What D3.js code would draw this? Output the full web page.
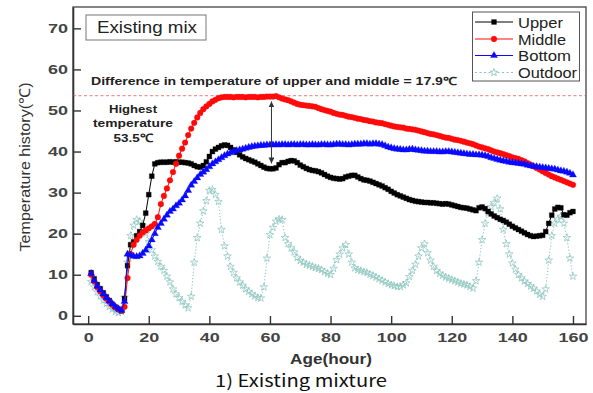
<!DOCTYPE html>
<html>
<head>
<meta charset="utf-8">
<script src="https://cdn.jsdelivr.net/npm/d3@7"></script>
<style>
  body { margin: 0; background: #fff; }
  svg { display: block; }
</style>
</head>
<body>
<script>
// hourly readings, age 1..160 h
var hours = d3.range(1, 161);

var upper = [
  10.5, 9, 7.6, 6.6, 5.6, 4.6, 3.7, 2.8, 2.1, 1.6,
  1.2, 4.2, 12.2, 17.3, 18, 19.5, 20.5, 22, 25, 29.5,
  34, 37, 37.3, 37.4, 37.4, 37.4, 37.5, 37.4, 37.5, 37.4,
  37.4, 37.3, 37.2, 37, 36.6, 36.3, 36.2, 36.6, 37.5, 38.8,
  40, 40.6, 41, 41.4, 41.6, 41.5, 41, 40.4, 39.8, 39.2,
  38.7, 38.3, 38, 37.7, 37.4, 37, 36.6, 36.2, 35.9, 35.8,
  35.8, 36, 36.8, 37.3, 37.3, 37.6, 37.8, 37.7, 37.3, 36.7,
  36.3, 35.9, 35.6, 35.4, 35.3, 35.1, 34.8, 34.4, 34, 33.7,
  33.5, 33.4, 33.3, 33.4, 33.8, 34, 34.2, 34.2, 33.8, 33.4,
  33.1, 33, 32.8, 32.5, 32.2, 31.9, 31.6, 31.2, 30.8, 30.3,
  29.9, 29.5, 29.2, 28.9, 28.6, 28.3, 28.1, 27.9, 27.8, 27.7,
  27.6, 27.6, 27.5, 27.5, 27.4, 27.3, 27.2, 27.3, 27.2, 27,
  26.8, 26.6, 26.4, 26.3, 26.2, 26, 25.8, 25.6, 26.3, 26.5,
  26.1, 25.4, 24.8, 24.3, 23.9, 23.5, 23.2, 22.8, 22.3, 21.8,
  21.4, 21, 20.6, 20.2, 19.8, 19.5, 19.3, 19.4, 19.5, 19.6,
  20.5, 22.5, 24.5, 26, 26.4, 26.3, 24.6, 24.5, 25.1, 25.4
];

var middle = [
  10, 8.4, 7, 6, 5, 4.2, 3.4, 2.7, 2.1, 1.6,
  1.3, 2.2, 9.2, 15, 17.3, 18.5, 19.5, 20.3, 20.8, 21.3,
  21.8, 22.4, 24, 27.2, 29.2, 31, 33, 35, 37, 39,
  40.7, 42.2, 44, 45.6, 47, 48.3, 49.4, 50.3, 51, 51.6,
  52.2, 52.6, 53, 53.2, 53.3, 53.3, 53.3, 53.2, 53.3, 53.3,
  53.3, 53.2, 53.3, 53.3, 53.3, 53.2, 53.3, 53.3, 53.4, 53.4,
  53.4, 53.5, 53.2, 52.9, 52.7, 52.5, 52.2, 51.9, 51.6, 51.4,
  51.3, 51.2, 51.1, 51, 50.9, 50.6, 50.3, 50.1, 49.9, 49.7,
  49.4, 49.2, 49, 48.9, 48.7, 48.5, 48.4, 48.2, 48, 47.9,
  47.7, 47.6, 47.4, 47.3, 47.1, 47, 46.9, 46.7, 46.5, 46.3,
  46.1, 46, 45.9, 45.8, 45.6, 45.5, 45.4, 45.3, 45.1, 44.9,
  44.7, 44.5, 44.3, 44.2, 44, 43.8, 43.6, 43.4, 43.3, 43.1,
  42.9, 42.8, 42.6, 42.4, 42.2, 42, 41.8, 41.5, 41.2, 41,
  40.8, 40.6, 40.3, 40, 39.8, 39.6, 39.4, 39.1, 38.9, 38.6,
  38.4, 38.2, 37.9, 37.6, 37.2, 36.8, 36.4, 36, 35.6, 35.2,
  34.8, 34.4, 34, 33.7, 33.4, 33.1, 32.8, 32.5, 32.2, 31.9
];

var bottom = [
  10.3, 8.6, 7.2, 6.3, 5.3, 4.4, 3.6, 2.9, 2.2, 1.7,
  1.3, 3.5, 15, 14.8, 14.5, 14.4, 14.6, 15.2, 16, 17,
  18.5, 20, 21.5, 22.5, 23.5, 24.5, 25.4, 26, 26.8, 27.4,
  28.2, 29.2, 30.5, 31.8, 32.7, 33.6, 34.4, 35, 35.6, 36.3,
  37, 37.5, 38, 38.5, 39, 39.4, 39.7, 40, 40.2, 40.4,
  40.6, 40.8, 41, 41.2, 41.3, 41.4, 41.5, 41.5, 41.6, 41.6,
  41.6, 41.7, 41.6, 41.7, 41.7, 41.6, 41.7, 41.7, 41.6, 41.7,
  41.7, 41.6, 41.6, 41.7, 41.6, 41.6, 41.7, 41.7, 41.6, 41.6,
  41.7, 41.8, 41.8, 41.7, 41.7, 41.6, 41.7, 41.8, 41.8, 41.8,
  41.9, 41.9, 41.8, 41.9, 41.9, 41.8, 41.7, 41.4, 41.1, 40.9,
  40.7, 40.6, 40.5, 40.4, 40.4, 40.5, 40.6, 40.4, 40.3, 40.2,
  40.1, 40.1, 40, 40, 40, 39.9, 39.9, 40, 40, 39.9,
  39.8, 39.7, 39.6, 39.5, 39.4, 39.3, 39.3, 39.2, 39.2, 39.1,
  39, 38.8, 38.5, 38.3, 38.1, 37.9, 37.7, 37.6, 37.4, 37.3,
  37.2, 37.1, 37, 36.9, 36.7, 36.5, 36.4, 36.3, 36.2, 36.1,
  36, 35.9, 35.8, 35.7, 35.5, 35.3, 35.2, 35, 34.7, 34.3
];

var outdoor = [
  8.3, 7, 5.8, 4.8, 3.8, 3, 2.2, 1.6, 1, 0.7,
  1, 4.5, 13, 19.5, 22, 23.4, 23, 22, 20, 18,
  16, 14.5, 13.2, 12, 11, 9.6, 8.2, 6.5, 5.3, 4.4,
  3.5, 2.6, 1.9, 4.7, 13, 19, 22.5, 25.5, 28, 30.5,
  30.7, 29.5, 27.8, 21, 17, 14.5, 12, 10.5, 9.2, 8.2,
  7.4, 6.5, 5.9, 5.3, 4.8, 4.4, 4.3, 7, 14, 19.7,
  21.5, 23, 23.5, 23.4, 19, 17.5, 16.5, 15.5, 14.2, 13.4,
  13, 12.5, 12.3, 12, 11.7, 11.5, 11.2, 10.7, 10.3, 10,
  11.5, 13.6, 15, 16.5, 17.3, 15, 13, 11.6, 11.2, 11,
  10.7, 10.5, 10.1, 9.8, 9.4, 9, 8.6, 8.2, 7.8, 7.5,
  7.3, 7.1, 7.1, 7.5, 8, 9.5, 11, 12.5, 14.5, 16.5,
  17.5, 15.3, 13.5, 12, 11, 10.3, 9.8, 9.4, 9.1, 8.8,
  8.5, 8.2, 7.9, 7.7, 7.5, 7.1, 6.7, 8.5, 13, 18.5,
  22.5, 25, 26.5, 27.5, 28.6, 26, 21, 17.5, 15, 12.8,
  11.3, 10, 9.2, 8.4, 7.8, 7.2, 6.7, 6, 5.2, 4.7,
  6.5, 13.5, 19.5, 22.5, 23.5, 24.2, 22.5, 19, 14, 9.6
];

var xTicks = [0, 20, 40, 60, 80, 100, 120, 140, 160];
var yTicks = [0, 10, 20, 30, 40, 50, 60, 70];
var seriesNames = ["Upper", "Middle", "Bottom", "Outdoor"];

var highestTemp = 53.5;
var diffAt = 60.5;      // hour where the difference arrow sits
var diffLow = 37.3;     // upper-location temperature at that hour

var width = 593, height = 393;
var plotL = 73, plotT = 7, plotR = 586, plotB = 324;

var svg = d3.select("body").append("svg")
  .attr("width", width)
  .attr("height", height);

var x = d3.scaleLinear().domain([-5, 164.3]).range([plotL, plotR]);
var y = d3.scaleLinear().domain([-2, 75.2]).range([plotB, plotT]);

var tickFont = "'Liberation Sans', Arial, sans-serif";
var stretch = 1.5;

// frame
svg.append("rect")
  .attr("x", plotL).attr("y", plotT)
  .attr("width", plotR - plotL).attr("height", plotB - plotT)
  .attr("fill", "none")
  .attr("stroke", "#444")
  .attr("stroke-width", 1.3);

// axes
var xAxis = svg.append("g")
  .attr("transform", "translate(0," + plotB + ")")
  .call(d3.axisBottom(x).tickValues(xTicks).tickSizeInner(-8).tickSizeOuter(0).tickPadding(9));

var yAxis = svg.append("g")
  .attr("transform", "translate(" + plotL + ",0)")
  .call(d3.axisLeft(y).tickValues(yTicks).tickSizeInner(-8).tickSizeOuter(0).tickPadding(5));

[xAxis, yAxis].forEach(function (g) {
  g.select(".domain").attr("stroke", "#333").attr("stroke-width", 1.6);
  g.selectAll(".tick line").attr("stroke", "#333").attr("stroke-width", 1.4);
  g.selectAll(".tick text")
    .attr("font-family", tickFont)
    .attr("font-size", 12)
    .attr("font-weight", "bold")
    .attr("fill", "#444");
});
xAxis.selectAll(".tick text").attr("transform", "scale(" + stretch + ",1)");
yAxis.selectAll(".tick text")
  .attr("x", -5 / stretch)
  .attr("transform", "scale(" + stretch + ",1)");

// dashed line at highest temperature
svg.append("line")
  .attr("x1", plotL).attr("x2", plotR)
  .attr("y1", y(highestTemp + 0.1)).attr("y2", y(highestTemp + 0.1))
  .attr("stroke", "#e84040")
  .attr("stroke-width", 0.7)
  .attr("stroke-dasharray", "3,2.5");

// series
var line = d3.line()
  .x(function (d, i) { return x(hours[i]); })
  .y(function (d) { return y(d); });

function drawSeries(vals, o) {
  var g = svg.append("g");
  g.append("path")
    .datum(vals)
    .attr("d", line)
    .attr("fill", "none")
    .attr("stroke", o.color)
    .attr("stroke-width", o.lineWidth)
    .attr("stroke-dasharray", o.dash || null);
  g.selectAll("path.pt")
    .data(vals)
    .enter()
    .append("path")
    .attr("class", "pt")
    .attr("d", d3.symbol().type(o.symbol).size(o.size))
    .attr("transform", function (d, i) {
      return "translate(" + x(hours[i]) + "," + y(d) + ")";
    })
    .attr("fill", o.filled ? o.color : "none")
    .attr("stroke", o.color)
    .attr("stroke-width", o.filled ? 0.3 : 0.7);
}

var styles = [
  { color: "#000000", symbol: d3.symbolSquare, size: 24, filled: true, lineWidth: 1 },
  { color: "#ff0a0a", symbol: d3.symbolCircle, size: 26, filled: true, lineWidth: 1 },
  { color: "#0a0aff", symbol: d3.symbolTriangle, size: 22, filled: true, lineWidth: 1 },
  { color: "#86c3bb", symbol: d3.symbolStar, size: 18, filled: false, lineWidth: 1, dash: "1.2,2" }
];

drawSeries(outdoor, styles[3]);
drawSeries(upper, styles[0]);
drawSeries(middle, styles[1]);
drawSeries(bottom, styles[2]);

// difference arrow
svg.append("defs").append("marker")
  .attr("id", "arr")
  .attr("viewBox", "0 0 10 10")
  .attr("refX", 10).attr("refY", 5)
  .attr("markerWidth", 6).attr("markerHeight", 6)
  .attr("markerUnits", "userSpaceOnUse")
  .attr("orient", "auto-start-reverse")
  .append("path")
  .attr("d", "M0,0 L10,5 L0,10 z")
  .attr("fill", "#333");

svg.append("line")
  .attr("x1", x(diffAt)).attr("x2", x(diffAt))
  .attr("y1", y(highestTemp - 1.3)).attr("y2", y(diffLow - 0.2))
  .attr("stroke", "#333")
  .attr("stroke-width", 1)
  .attr("marker-start", "url(#arr)")
  .attr("marker-end", "url(#arr)");

// annotations
var annFont = "'Liberation Sans', Arial, sans-serif";

svg.append("text")
  .attr("x", 91).attr("y", 85)
  .attr("font-family", annFont)
  .attr("font-size", 11)
  .attr("font-weight", "bold")
  .attr("fill", "#222")
  .attr("textLength", 366)
  .attr("lengthAdjust", "spacingAndGlyphs")
  .text("Difference in temperature of upper and middle = 17.9\u2103");

var hiLines = ["Highest", "temperature", highestTemp + "\u2103"];
var hiWidths = [48, 80, 39];
svg.selectAll("text.hi")
  .data(hiLines)
  .enter()
  .append("text")
  .attr("class", "hi")
  .attr("x", 133)
  .attr("y", function (d, i) { return 113 + i * 14.3; })
  .attr("text-anchor", "middle")
  .attr("font-family", annFont)
  .attr("font-size", 11.5)
  .attr("font-weight", "bold")
  .attr("fill", "#222")
  .attr("textLength", function (d, i) { return hiWidths[i]; })
  .attr("lengthAdjust", "spacingAndGlyphs")
  .text(function (d) { return d; });

// "Existing mix" box
svg.append("rect")
  .attr("x", 86).attr("y", 15)
  .attr("width", 120).attr("height", 25)
  .attr("fill", "#fff")
  .attr("stroke", "#777")
  .attr("stroke-width", 1);
svg.append("text")
  .attr("x", 97).attr("y", 33)
  .attr("font-family", annFont)
  .attr("font-size", 16)
  .attr("fill", "#222")
  .attr("textLength", 100)
  .attr("lengthAdjust", "spacingAndGlyphs")
  .text("Existing mix");

// legend
var legend = svg.append("g");
legend.append("rect")
  .attr("x", 472.5).attr("y", 12)
  .attr("width", 107).attr("height", 69)
  .attr("fill", "#fff")
  .attr("stroke", "#555")
  .attr("stroke-width", 1);

var legY = [22, 39, 55.5, 72.5];
var legW = [45, 48, 53, 59];
seriesNames.forEach(function (name, i) {
  var s = styles[i];
  legend.append("line")
    .attr("x1", 475).attr("x2", 513)
    .attr("y1", legY[i]).attr("y2", legY[i])
    .attr("stroke", s.color)
    .attr("stroke-width", 1)
    .attr("stroke-dasharray", s.dash ? "2,2.5" : null);
  legend.append("path")
    .attr("d", d3.symbol().type(s.symbol).size(s.size))
    .attr("transform", "translate(494," + legY[i] + ")")
    .attr("fill", s.filled ? s.color : "#fff")
    .attr("stroke", s.color)
    .attr("stroke-width", s.filled ? 0.3 : 0.8);
  legend.append("text")
    .attr("x", 518).attr("y", legY[i] + 5.5)
    .attr("font-family", annFont)
    .attr("font-size", 15)
    .attr("fill", "#222")
    .attr("textLength", legW[i])
    .attr("lengthAdjust", "spacingAndGlyphs")
    .text(name);
});

// axis titles
svg.append("text")
  .attr("transform", "translate(30,167) rotate(-90)")
  .attr("text-anchor", "middle")
  .attr("font-family", annFont)
  .attr("font-size", 15)
  .attr("fill", "#333")
  .attr("textLength", 169)
  .attr("lengthAdjust", "spacingAndGlyphs")
  .text("Temperature history(\u2103)");

svg.append("text")
  .attr("x", 331).attr("y", 364)
  .attr("text-anchor", "middle")
  .attr("font-family", annFont)
  .attr("font-size", 15)
  .attr("font-weight", "bold")
  .attr("fill", "#333")
  .attr("textLength", 82)
  .attr("lengthAdjust", "spacingAndGlyphs")
  .text("Age(hour)");

svg.append("text")
  .attr("x", 215).attr("y", 387)
  .attr("font-family", "'Noto Sans CJK KR', 'Liberation Sans', sans-serif")
  .attr("font-size", 17)
  .attr("fill", "#111")
  .attr("textLength", 172)
  .attr("lengthAdjust", "spacingAndGlyphs")
  .text("1)  Existing  mixture");
</script>
</body>
</html>
